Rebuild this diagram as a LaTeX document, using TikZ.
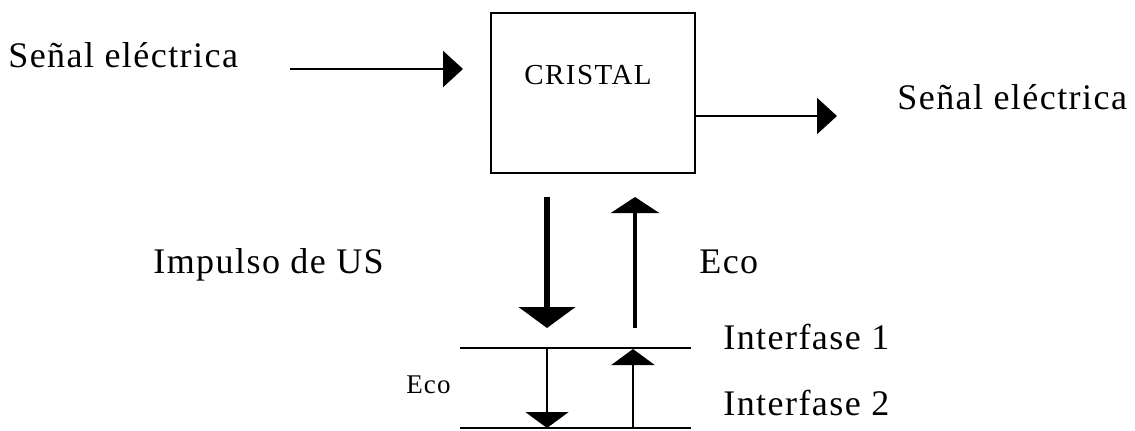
\documentclass[tikz,border=0pt]{standalone}
\usepackage{fontspec}
\setmainfont{Liberation Serif}[LetterSpace=4]
\usetikzlibrary{arrows.meta}
\tikzset{
  lbl/.style={anchor=base west, inner sep=0pt, font=\fontsize{18}{20}\selectfont},
  smalllbl/.style={anchor=base west, inner sep=0pt, font=\fontsize{13.5}{15}\selectfont},
  box/.style={draw, line width=1.3pt, minimum width=102pt, minimum height=80pt, inner sep=0pt},
  flow/.style={line width=1.2pt, -{Triangle[length=10pt,width=18pt]}},
  bigdown/.style={line width=3pt, -{Triangle[length=10.5pt,width=28pt]}},
  bigup/.style={line width=1.6pt, -{Triangle[length=8pt,width=24pt]}},
  smallarr/.style={line width=1.2pt, -{Triangle[length=8pt,width=21.5pt]}},
  iface/.style={line width=1.4pt}
}
\begin{document}
\begin{tikzpicture}[x=0.5pt,y=-0.5pt]
\useasboundingbox (0,0) rectangle (1135,430);
% crystal box
\node[box] (crystal) at (593,93) {};
\node[anchor=base, inner sep=0pt, font=\fontsize{14.5}{16}\selectfont\addfontfeature{LetterSpace=5}] (crystaltext) at (588,84) {CRISTAL};
% labels
\node[lbl] (sigin) at (8,67) {Señal eléctrica};
\node[lbl] (sigout) at (897,109) {Señal eléctrica};
\node[lbl] (impulse) at (153,273) {Impulso de US};
\node[lbl] (echo) at (699,273) {Eco};
\node[lbl] (if1) at (723,349) {Interfase 1};
\node[lbl] (if2) at (723,415) {Interfase 2};
\node[smalllbl] (echosmall) at (406,393) {Eco};
% coordinates
\coordinate (inA) at (290,69);
\coordinate (inB) at (463,69);
\coordinate (outA) at (695,116);
\coordinate (outB) at (837,116);
\coordinate (downA) at (547,197);
\coordinate (downB) at (547,328);
\coordinate (upA) at (635,328);
\coordinate (upB) at (635,197);
\coordinate (l1a) at (460,348);
\coordinate (l1b) at (691,348);
\coordinate (l2a) at (460,428);
\coordinate (l2b) at (691,428);
\coordinate (sdA) at (547,348);
\coordinate (sdB) at (547,428);
\coordinate (suA) at (633,428);
\coordinate (suB) at (633,349);
% connectors
\draw[flow] (inA) -- (inB);
\draw[flow] (crystal.east |- outA) -- (outB);
\draw[bigdown] (downA) -- (downB);
\draw[bigup] (upA) -- (upB);
\draw[iface] (l1a) -- (l1b);
\draw[iface] (l2a) -- (l2b);
\draw[smallarr] (sdA) -- (sdB);
\draw[smallarr] (suA) -- (suB);
\end{tikzpicture}
\end{document}
